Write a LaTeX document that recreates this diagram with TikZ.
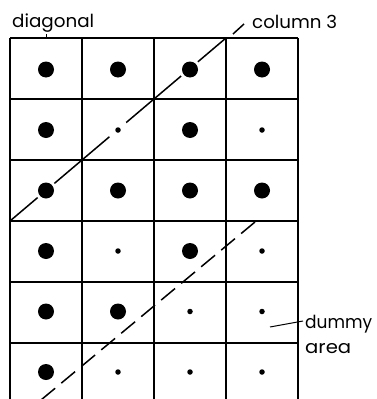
\documentclass[tikz,border=0pt]{standalone}
\usepackage{fontspec}
\usepackage{graphicx}
\setmainfont{Poppins}
\newcommand{\fitlbl}[2]{\resizebox{#1}{\height}{\fontsize{18}{21}\selectfont #2}}
\begin{document}
\begin{tikzpicture}[x=1pt,y=-1pt,
  gridline/.style={line width=1.8pt},
  bigdot/.style={circle,fill=black,inner sep=0pt,minimum size=16pt},
  smalldot/.style={circle,fill=black,inner sep=0pt,minimum size=5.5pt},
  halo/.style={circle,fill=white,inner sep=0pt,minimum size=22pt},
  lbl/.style={inner sep=0pt,anchor=base west},
  diag/.style={line width=1.5pt},
  dashdiag/.style={line width=1.5pt,dash pattern=on 18pt off 8pt},
  leader/.style={line width=1pt}]
\useasboundingbox (0,0) rectangle (376,399);
% grid corner coordinates
\foreach \i/\x in {0/10,1/82,2/154,3/226,4/298}{
  \foreach \j/\y in {0/38,1/99,2/160,3/221,4/282,5/343}{
    \coordinate (g-\i-\j) at (\x,\y);
  }
  \coordinate (b-\i) at (\x,399);
}
% grid lines
\foreach \j in {0,...,5}{\draw[gridline] (g-0-\j) -- (g-4-\j);}
\foreach \i in {0,...,4}{\draw[gridline] (g-\i-0) -- (b-\i);}
% main diagonal (column 3)
\draw[diag] (g-0-3) -- (g-3-0);
\coordinate (c3a) at (233,34);
\coordinate (c3b) at (244,24);
\draw[diag] (c3a) -- (c3b);
% halos where the diagonal meets the dots
\node[halo] (h-2-0) at (190,69.5) {};
\node[halo] (h-1-1) at (118,130) {};
\node[halo] (h-0-2) at (46,190.5) {};
% dots
\foreach \row/\pat in {0/{1,1,1,1},1/{1,0,1,0},2/{1,1,1,1},3/{1,0,1,0},4/{1,1,0,0},5/{1,0,0,0}}{
  \foreach \p [count=\i from 0] in \pat {
    \pgfmathsetmacro{\cx}{46+72*\i}
    \pgfmathsetmacro{\cy}{69.5+60.5*\row}
    \ifnum\p=1
      \node[bigdot] (d-\i-\row) at (\cx,\cy) {};
    \else
      \node[smalldot] (d-\i-\row) at (\cx,\cy) {};
    \fi
  }
}
% second dashed diagonal
\coordinate (s2a) at (255,222);
\coordinate (s2b) at (41,400);
\draw[dashdiag] (s2a) -- (s2b);
% labels
\node[lbl] (diagonal) at (12,27) {\fitlbl{82pt}{diagonal}};
\coordinate (dt1) at (46,34);
\coordinate (dt2) at (46,38);
\draw[leader] (dt1) -- (dt2);
\node[lbl] (col3) at (252,28) {\fitlbl{85pt}{column 3}};
\node[lbl] (dummy) at (305,328) {\fitlbl{67pt}{dummy}};
\node[lbl] (area) at (305,353) {\fitlbl{46pt}{area}};
\coordinate (la) at (270,327);
\coordinate (lb) at (303,321);
\draw[leader] (la) -- (lb);
\end{tikzpicture}
\end{document}
